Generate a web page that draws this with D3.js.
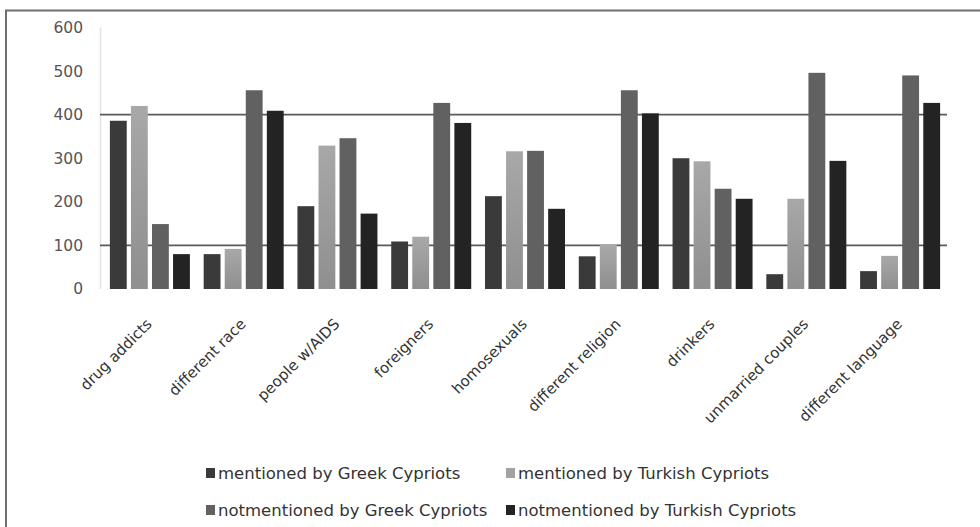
<!DOCTYPE html>
<html>
<head>
<meta charset="utf-8">
<script src="https://cdn.jsdelivr.net/npm/d3@7"></script>
<style>
  html, body { margin: 0; padding: 0; background: #fff; }
  svg { display: block; }
  text { font-family: "DejaVu Sans", sans-serif; }
</style>
</head>
<body>
<svg id="chart" width="980" height="527"></svg>
<script>
const categories = ["drug addicts", "different race", "people w/AIDS", "foreigners", "homosexuals",
  "different religion", "drinkers", "unmarried couples", "different language"];
const seriesNames = ["mentioned by Greek Cypriots", "mentioned by Turkish Cypriots",
  "notmentioned by Greek Cypriots", "notmentioned by Turkish Cypriots"];
const mentionedGreek = [386, 80, 190, 109, 213, 75, 300, 34, 41];
const mentionedTurkish = [420, 92, 329, 120, 316, 101, 293, 207, 76];
const notMentionedGreek = [149, 456, 346, 427, 317, 456, 230, 496, 490];
const notMentionedTurkish = [80, 409, 173, 381, 184, 403, 207, 294, 427];
const seriesValues = [mentionedGreek, mentionedTurkish, notMentionedGreek, notMentionedTurkish];
const yTicks = [0, 100, 200, 300, 400, 500, 600];
const gridValues = [100, 400];
const colors = ["#3a3a3a", "#a2a2a2", "#616161", "#232323"];

const svg = d3.select("#chart");

// frame
svg.append("line").attr("x1", 5).attr("x2", 980).attr("y1", 10.5).attr("y2", 10.5)
  .attr("stroke", "#6e6e6e").attr("stroke-width", 2);
svg.append("line").attr("x1", 6).attr("x2", 6).attr("y1", 10).attr("y2", 527)
  .attr("stroke", "#6e6e6e").attr("stroke-width", 2);

const x0 = d3.scaleBand().domain(categories).range([103, 947]);
const x1 = d3.scaleBand().domain(d3.range(4)).range([-40, 40]).paddingInner(0.2);
const y = d3.scaleLinear().domain([0, 600]).range([289, 27.5]);

// y axis line (light)
svg.append("line").attr("x1", 100.5).attr("x2", 100.5).attr("y1", y(600)).attr("y2", y(0))
  .attr("stroke", "#e2e2e2").attr("stroke-width", 1.5);

// gridlines
svg.append("g").selectAll("line").data(gridValues).join("line")
  .attr("x1", 100).attr("x2", 947)
  .attr("y1", d => y(d)).attr("y2", d => y(d))
  .attr("stroke", "#5a5a5a").attr("stroke-width", 1.6);

// y tick labels
svg.append("g").selectAll("text").data(yTicks).join("text")
  .attr("x", 83).attr("y", d => y(d)).attr("dy", "0.35em")
  .attr("text-anchor", "end").attr("font-size", 15.5).attr("fill", "#555")
  .text(d => d);

// bars
const grad = svg.append("defs").append("linearGradient").attr("id", "g2")
  .attr("x1", 0).attr("x2", 0).attr("y1", 0).attr("y2", 1);
grad.append("stop").attr("offset", "0%").attr("stop-color", "#a8a8a8");
grad.append("stop").attr("offset", "100%").attr("stop-color", "#8f8f8f");

const groups = svg.append("g").selectAll("g").data(categories).join("g")
  .attr("transform", d => `translate(${x0(d) + x0.bandwidth() / 2},0)`);
groups.selectAll("rect").data((c, i) => seriesValues.map((s, k) => ({ k, v: s[i] }))).join("rect")
  .attr("x", d => x1(d.k)).attr("width", x1.bandwidth())
  .attr("y", d => y(d.v)).attr("height", d => y(0) - y(d.v))
  .attr("fill", d => d.k === 1 ? "url(#g2)" : colors[d.k]);

// category labels
svg.append("g").selectAll("text").data(categories).join("text")
  .attr("transform", d => `translate(${x0(d) + x0.bandwidth() / 2 + 3},${y(0) + 36}) rotate(-45)`)
  .attr("text-anchor", "end").attr("font-size", 15).attr("fill", "#333")
  .text(d => d);

// legend
const legendPos = [[206, 473], [506, 473], [206, 510], [506, 510]];
const lg = svg.append("g").selectAll("g").data(seriesNames).join("g")
  .attr("transform", (d, i) => `translate(${legendPos[i][0]},${legendPos[i][1]})`);
lg.append("rect").attr("x", 0).attr("y", -5).attr("width", 9).attr("height", 10)
  .attr("fill", (d, i) => colors[i]);
lg.append("text").attr("x", 12).attr("y", 0).attr("dy", "0.35em")
  .attr("font-size", 16.5).attr("fill", "#333").text(d => d);
</script>
</body>
</html>
